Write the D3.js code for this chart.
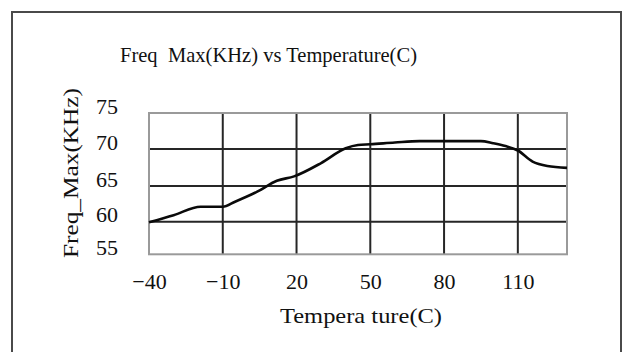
<!DOCTYPE html>
<html>
<head>
<meta charset="utf-8">
<script src="https://cdn.jsdelivr.net/npm/d3@7"></script>
<style>
  body { margin: 0; background: #fff; }
  svg { display: block; }
  .label { font-family: "Liberation Serif", "DejaVu Serif", serif; fill: #111; }
</style>
</head>
<body>
<svg id="chart"></svg>
<script>
// Canvas size
const WIDTH = 623;
const HEIGHT = 352;

// Data
const temperatures = [-40, -30, -19, -10, -5, 4, 12, 19, 30, 40, 45, 50, 60, 70, 80, 95, 100, 105, 110, 116, 122, 130];
const freqMax = [59.9, 60.9, 62.1, 62.1, 62.8, 64.2, 65.7, 66.3, 68.1, 70.1, 70.55, 70.65, 70.9, 71.1, 71.1, 71.1, 70.8, 70.4, 69.8, 68.3, 67.7, 67.45];
const xTicks = [-40, -10, 20, 50, 80, 110];
const yTicks = [55, 60, 65, 70, 75];

const dataset = temperatures.map((t, i) => [t, freqMax[i]]);

const svg = d3.select("#chart").attr("width", WIDTH).attr("height", HEIGHT);

// outer frame (bottom edge runs off the page)
svg.append("rect")
  .attr("x", 12).attr("y", 12)
  .attr("width", 609).attr("height", 400)
  .attr("fill", "none")
  .attr("stroke", "#4a4a4a")
  .attr("stroke-width", 2);

// Scales - the scanned grid is not perfectly even, so y uses one segment per band
const xScale = d3.scaleLinear().domain([-40, 130]).range([149, 567]);
const yScale = d3.scaleLinear()
  .domain([55, 60, 65, 70, 75])
  .range([254.3, 221.7, 186, 149, 113]);

// gridlines
svg.append("g")
  .selectAll("line")
  .data(xTicks.slice(1))
  .enter()
  .append("line")
  .attr("x1", (d) => xScale(d)).attr("x2", (d) => xScale(d))
  .attr("y1", yScale(75)).attr("y2", yScale(55))
  .attr("stroke", "#262626")
  .attr("stroke-width", 2);

svg.append("g")
  .selectAll("line")
  .data(yTicks.slice(1, -1))
  .enter()
  .append("line")
  .attr("x1", xScale(-40)).attr("x2", xScale(130))
  .attr("y1", (d) => yScale(d)).attr("y2", (d) => yScale(d))
  .attr("stroke", "#262626")
  .attr("stroke-width", 2);

// plot frame
svg.append("rect")
  .attr("x", xScale(-40)).attr("y", yScale(75))
  .attr("width", xScale(130) - xScale(-40))
  .attr("height", yScale(55) - yScale(75))
  .attr("fill", "none")
  .attr("stroke", "#9a9a9a")
  .attr("stroke-width", 2);

// the curve
const line = d3.line()
  .x((d) => xScale(d[0]))
  .y((d) => yScale(d[1]))
  .curve(d3.curveMonotoneX);

svg.append("path")
  .datum(dataset)
  .attr("d", line)
  .attr("fill", "none")
  .attr("stroke", "#0a0a0a")
  .attr("stroke-width", 2.6)
  .attr("stroke-linejoin", "round");

// axes (labels only, no domain or tick marks)
const xAxis = d3.axisBottom(xScale).tickValues(xTicks).tickSize(0).tickPadding(0)
  .tickFormat((d) => (d < 0 ? "\u2212" + Math.abs(d) : d));
const yAxis = d3.axisLeft(yScale).tickValues(yTicks).tickSize(0).tickPadding(0);

const gx = svg.append("g")
  .attr("transform", "translate(0, 273.5)")
  .call(xAxis);
gx.select(".domain").remove();
gx.selectAll("text")
  .attr("class", "label")
  .attr("dy", "0.71em")
  .style("font-size", "22px");

const gy = svg.append("g")
  .attr("transform", "translate(118, -7)")
  .call(yAxis);
gy.select(".domain").remove();
gy.selectAll("text")
  .attr("class", "label")
  .style("font-size", "22px");

// titles
svg.append("text")
  .text("Freq  Max(KHz) vs Temperature(C)")
  .attr("x", 120).attr("y", 62)
  .attr("textLength", 297)
  .attr("lengthAdjust", "spacingAndGlyphs")
  .attr("class", "label")
  .style("font-size", "21px")
  .style("white-space", "pre");

svg.append("text")
  .text("Tempera ture(C)")
  .attr("x", 280).attr("y", 323)
  .attr("textLength", 162)
  .attr("lengthAdjust", "spacingAndGlyphs")
  .attr("class", "label")
  .style("font-size", "21px")
  .style("white-space", "pre");

svg.append("text")
  .text("Freq_Max(KHz)")
  .attr("transform", "translate(78, 258) rotate(-90)")
  .attr("textLength", 170)
  .attr("lengthAdjust", "spacingAndGlyphs")
  .attr("class", "label")
  .style("font-size", "21px");
</script>
</body>
</html>
